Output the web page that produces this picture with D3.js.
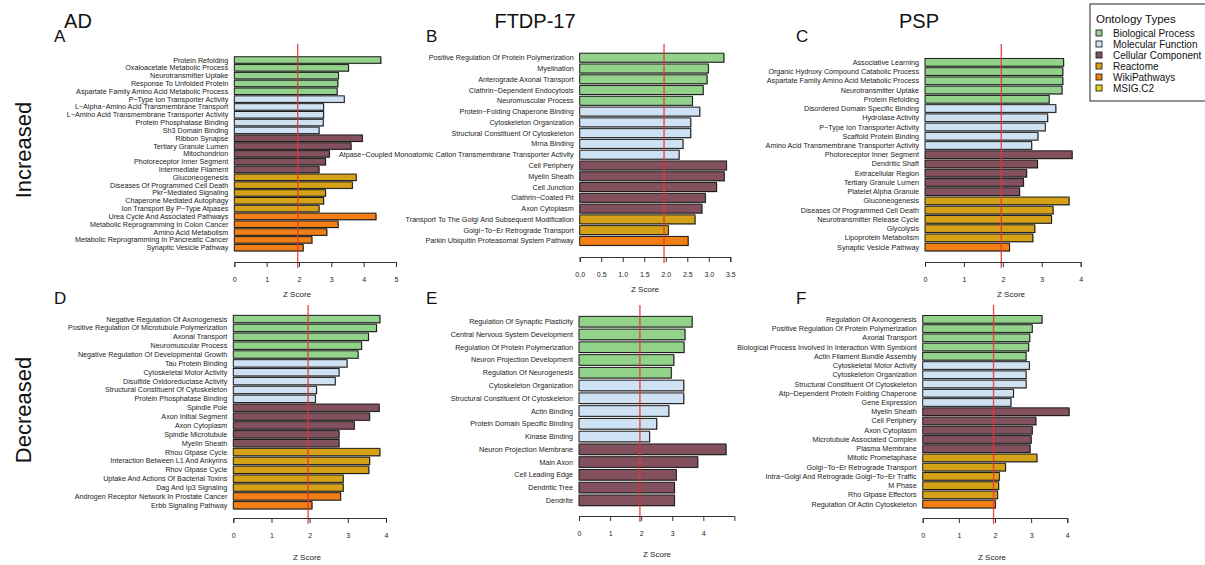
<html>
<head>
<meta charset="utf-8">
<script src="https://d3js.org/d3.v7.min.js"></script>
<style>
body { margin: 0; background: #fff; }
svg { font-family: "Liberation Sans", Arial, Helvetica, sans-serif; }
.lbl { font-size: 7.2px; fill: #222; }
.tick text { font-size: 7px; fill: #222; }
</style>
</head>
<body>
<svg width="1205" height="565"></svg>
<script>
// ---- data ----
const typeNames = ["Biological Process", "Molecular Function", "Cellular Component", "Reactome", "WikiPathways", "MSIG.C2"];
const typeKeys = ["BP", "MF", "CC", "RE", "WP", "MS"];
const typeColors = ["#93d28a", "#cfe2f3", "#83515e", "#d4a117", "#f17f16", "#f3cc12"];

// A: AD increased
const aLabels = ["Protein Refolding", "Oxaloacetate Metabolic Process", "Neurotransmitter Uptake", "Response To Unfolded Protein", "Aspartate Family Amino Acid Metabolic Process",
  "P\u2212Type Ion Transporter Activity", "L\u2212Alpha\u2212Amino Acid Transmembrane Transport", "L\u2212Amino Acid Transmembrane Transporter Activity", "Protein Phosphatase Binding", "Sh3 Domain Binding",
  "Ribbon Synapse", "Tertiary Granule Lumen", "Mitochondrion", "Photoreceptor Inner Segment", "Intermediate Filament",
  "Gluconeogenesis", "Diseases Of Programmed Cell Death", "Pkr\u2212Mediated Signaling", "Chaperone Mediated Autophagy", "Ion Transport By P\u2212Type Atpases",
  "Urea Cycle And Associated Pathways", "Metabolic Reprogramming In Colon Cancer", "Amino Acid Metabolism", "Metabolic Reprogramming In Pancreatic Cancer", "Synaptic Vesicle Pathway"];
const aValues = [4.53, 3.53, 3.22, 3.20, 3.18, 3.40, 2.76, 2.76, 2.75, 2.62, 3.96, 3.61, 2.94, 2.82, 2.62, 3.77, 3.65, 2.82, 2.76, 2.62, 4.38, 3.21, 2.86, 2.40, 2.13];
const aTypes = ["BP","BP","BP","BP","BP","MF","MF","MF","MF","MF","CC","CC","CC","CC","CC","RE","RE","RE","RE","RE","WP","WP","WP","WP","WP"];

// B: FTDP-17 increased
const bLabels = ["Positive Regulation Of Protein Polymerization", "Myelination", "Anterograde Axonal Transport", "Clathrin\u2212Dependent Endocytosis", "Neuromuscular Process",
  "Protein\u2212Folding Chaperone Binding", "Cytoskeleton Organization", "Structural Constituent Of Cytoskeleton", "Mrna Binding", "Atpase\u2212Coupled Monoatomic Cation Transmembrane Transporter Activity",
  "Cell Periphery", "Myelin Sheath", "Cell Junction", "Clathrin\u2212Coated Pit", "Axon Cytoplasm",
  "Transport To The Golgi And Subsequent Modification", "Golgi\u2212To\u2212Er Retrograde Transport", "Parkin Ubiquitin Proteasomal System Pathway"];
const bValues = [3.35, 2.99, 2.96, 2.87, 2.62, 2.79, 2.58, 2.58, 2.40, 2.31, 3.41, 3.36, 3.18, 2.92, 2.84, 2.68, 2.06, 2.52];
const bTypes = ["BP","BP","BP","BP","BP","MF","MF","MF","MF","MF","CC","CC","CC","CC","CC","RE","RE","WP"];

// C: PSP increased
const cLabels = ["Associative Learning", "Organic Hydroxy Compound Catabolic Process", "Aspartate Family Amino Acid Metabolic Process", "Neurotransmitter Uptake", "Protein Refolding",
  "Disordered Domain Specific Binding", "Hydrolase Activity", "P\u2212Type Ion Transporter Activity", "Scaffold Protein Binding", "Amino Acid Transmembrane Transporter Activity",
  "Photoreceptor Inner Segment", "Dendritic Shaft", "Extracellular Region", "Tertiary Granule Lumen", "Platelet Alpha Granule",
  "Gluconeogenesis", "Diseases Of Programmed Cell Death", "Neurotransmitter Release Cycle", "Glycolysis", "Lipoprotein Metabolism",
  "Synaptic Vesicle Pathway"];
const cValues = [3.56, 3.54, 3.54, 3.52, 3.19, 3.36, 3.15, 3.09, 2.90, 2.74, 3.78, 2.89, 2.61, 2.53, 2.43, 3.70, 3.29, 3.25, 2.82, 2.77, 2.17];
const cTypes = ["BP","BP","BP","BP","BP","MF","MF","MF","MF","MF","CC","CC","CC","CC","CC","RE","RE","RE","RE","RE","WP"];

// D: AD decreased
const dLabels = ["Negative Regulation Of Axonogenesis", "Positive Regulation Of Microtubule Polymerization", "Axonal Transport", "Neuromuscular Process", "Negative Regulation Of Developmental Growth",
  "Tau Protein Binding", "Cytoskeletal Motor Activity", "Disulfide Oxidoreductase Activity", "Structural Constituent Of Cytoskeleton", "Protein Phosphatase Binding",
  "Spindle Pole", "Axon Initial Segment", "Axon Cytoplasm", "Spindle Microtubule", "Myelin Sheath",
  "Rhou Gtpase Cycle", "Interaction Between L1 And Ankyrins", "Rhov Gtpase Cycle", "Uptake And Actions Of Bacterial Toxins", "Dag And Ip3 Signaling",
  "Androgen Receptor Network In Prostate Cancer", "Erbb Signaling Pathway"];
const dValues = [3.84, 3.75, 3.54, 3.36, 3.27, 2.98, 2.77, 2.67, 2.18, 2.15, 3.82, 3.57, 3.17, 2.77, 2.77, 3.84, 3.57, 3.55, 2.88, 2.88, 2.81, 2.06];
const dTypes = ["BP","BP","BP","BP","BP","MF","MF","MF","MF","MF","CC","CC","CC","CC","CC","RE","RE","RE","RE","RE","WP","WP"];

// E: FTDP-17 decreased
const eLabels = ["Regulation Of Synaptic Plasticity", "Central Nervous System Development", "Regulation Of Protein Polymerization", "Neuron Projection Development", "Regulation Of Neurogenesis",
  "Cytoskeleton Organization", "Structural Constituent Of Cytoskeleton", "Actin Binding", "Protein Domain Specific Binding", "Kinase Binding",
  "Neuron Projection Membrane", "Main Axon", "Cell Leading Edge", "Dendritic Tree", "Dendrite"];
const eValues = [3.64, 3.41, 3.38, 3.05, 2.97, 3.37, 3.37, 2.89, 2.50, 2.27, 4.73, 3.82, 3.13, 3.07, 3.07];
const eTypes = ["BP","BP","BP","BP","BP","MF","MF","MF","MF","MF","CC","CC","CC","CC","CC"];

// F: PSP decreased
const fLabels = ["Regulation Of Axonogenesis", "Positive Regulation Of Protein Polymerization", "Axonal Transport", "Biological Process Involved In Interaction With Symbiont", "Actin Filament Bundle Assembly",
  "Cytoskeletal Motor Activity", "Cytoskeleton Organization", "Structural Constituent Of Cytoskeleton", "Atp\u2212Dependent Protein Folding Chaperone", "Gene Expression",
  "Myelin Sheath", "Cell Periphery", "Axon Cytoplasm", "Microtubule Associated Complex", "Plasma Membrane",
  "Mitotic Prometaphase", "Golgi\u2212To\u2212Er Retrograde Transport", "Intra\u2212Golgi And Retrograde Golgi\u2212To\u2212Er Traffic", "M Phase", "Rho Gtpase Effectors",
  "Regulation Of Actin Cytoskeleton"];
const fValues = [3.30, 3.03, 2.96, 2.93, 2.86, 2.95, 2.86, 2.86, 2.51, 2.44, 4.05, 3.13, 3.03, 3.00, 2.97, 3.16, 2.29, 2.12, 2.10, 2.07, 2.01];
const fTypes = ["BP","BP","BP","BP","BP","MF","MF","MF","MF","MF","CC","CC","CC","CC","CC","RE","RE","RE","RE","RE","WP"];

const zCut = 1.96;
const columnTitles = ["AD", "FTDP-17", "PSP"];
const rowTitles = ["Increased", "Decreased"];

// ---- drawing ----
const svg = d3.select("svg");
const colorOf = d3.scaleOrdinal().domain(typeKeys).range(typeColors);

function drawPanel(p, labels, values, types) {
  const x = d3.scaleLinear().domain([0, p.xmax]).range([p.x0, p.x1]);
  const y = d3.scaleBand().domain(labels).range([p.y0, p.y1]).paddingInner(1 / 6).paddingOuter(1 / 12);
  const g = svg.append("g");

  // shadow
  g.selectAll("rect.sh").data(labels).enter().append("rect")
    .attr("class", "sh")
    .attr("x", x(0) + 0.8)
    .attr("y", d => y(d) + 0.8)
    .attr("width", (d, i) => x(values[i]) - x(0))
    .attr("height", y.bandwidth())
    .attr("fill", "#9a9a9a");
  g.selectAll("rect.bar").data(labels).enter().append("rect")
    .attr("class", "bar")
    .attr("x", x(0))
    .attr("y", d => y(d))
    .attr("width", (d, i) => x(values[i]) - x(0))
    .attr("height", y.bandwidth())
    .attr("fill", (d, i) => colorOf(types[i]))
    .attr("stroke", "#1b1b1b")
    .attr("stroke-width", 1);

  g.selectAll("text.lbl").data(labels).enter().append("text")
    .attr("class", "lbl")
    .attr("x", x(0) - 6)
    .attr("y", d => y(d) + y.bandwidth() / 2)
    .attr("dy", "0.35em")
    .attr("text-anchor", "end")
    .text(d => d);

  g.append("line")
    .attr("x1", x(zCut)).attr("x2", x(zCut))
    .attr("y1", p.redTop).attr("y2", p.axisY + 6)
    .attr("stroke", "#e8322f").attr("stroke-opacity", 0.85).attr("stroke-width", 1.4);

  const ax = g.append("g")
    .attr("transform", "translate(0," + p.axisY + ")")
    .call(d3.axisBottom(x).tickValues(p.ticks).tickFormat(p.fmt).tickSizeOuter(0).tickSize(5).tickPadding(10));
  ax.select(".domain").attr("stroke", "#333");
  ax.selectAll(".tick line").attr("stroke", "#333");

  g.append("text")
    .attr("x", p.zx).attr("y", p.zy)
    .attr("text-anchor", "middle")
    .style("font-size", "8px").attr("fill", "#222")
    .text("Z Score");

  svg.append("text")
    .attr("x", p.lx).attr("y", p.ly)
    .style("font-size", "17px").attr("fill", "#111")
    .text(p.letter);
}

const fmt0 = d3.format("d");
const fmt1 = d3.format(".1f");

drawPanel({letter: "A", lx: 54, ly: 42, xmax: 5, x0: 234.3, x1: 396, y0: 56.1, y1: 251.6, axisY: 262, redTop: 44,
  ticks: [0, 1, 2, 3, 4, 5], fmt: fmt0, zx: 297, zy: 297}, aLabels, aValues, aTypes);
drawPanel({letter: "B", lx: 426, ly: 42, xmax: 3.5, x0: 579.7, x1: 730.3, y0: 52.3, y1: 246.3, axisY: 257, redTop: 44,
  ticks: [0, 0.5, 1, 1.5, 2, 2.5, 3, 3.5], fmt: fmt1, zx: 645, zy: 292}, bLabels, bValues, bTypes);
drawPanel({letter: "C", lx: 796, ly: 42, xmax: 4, x0: 925, x1: 1080.7, y0: 57.7, y1: 251.7, axisY: 262, redTop: 44,
  ticks: [0, 1, 2, 3, 4], fmt: fmt0, zx: 1011, zy: 297}, cLabels, cValues, cTypes);
drawPanel({letter: "D", lx: 54, ly: 304, xmax: 4, x0: 233.3, x1: 386, y0: 314.6, y1: 509.7, axisY: 518, redTop: 305,
  ticks: [0, 1, 2, 3, 4], fmt: fmt0, zx: 307, zy: 560}, dLabels, dValues, dTypes);
drawPanel({letter: "E", lx: 426, ly: 304, xmax: 5, x0: 579, x1: 734.4, y0: 315.3, y1: 506.7, axisY: 516, redTop: 305,
  ticks: [0, 1, 2, 3, 4], fmt: fmt0, zx: 657, zy: 557}, eLabels, eValues, eTypes);
drawPanel({letter: "F", lx: 796, ly: 304, xmax: 4, x0: 922.7, x1: 1067.3, y0: 314.7, y1: 508.7, axisY: 518, redTop: 305,
  ticks: [0, 1, 2, 3, 4], fmt: fmt0, zx: 992, zy: 560}, fLabels, fValues, fTypes);

// column titles
const colX = [78, 535, 919];
svg.selectAll("text.ct").data(columnTitles).enter().append("text")
  .attr("class", "ct")
  .attr("x", (d, i) => colX[i]).attr("y", 28)
  .attr("text-anchor", "middle")
  .style("font-size", "20px").attr("fill", "#111")
  .text(d => d);

// row titles
const rowY = [150, 410];
svg.selectAll("text.rt").data(rowTitles).enter().append("text")
  .attr("class", "rt")
  .attr("transform", (d, i) => "translate(31," + rowY[i] + ") rotate(-90)")
  .attr("text-anchor", "middle")
  .style("font-size", "22px").attr("fill", "#111")
  .text(d => d);

// legend
const lg = svg.append("g").attr("transform", "translate(1090,4)");
lg.append("rect").attr("x", 0).attr("y", 0).attr("width", 130).attr("height", 97)
  .attr("fill", "#fff").attr("stroke", "#222").attr("stroke-width", 1);
lg.append("text").attr("x", 6).attr("y", 19).style("font-size", "11.5px").attr("fill", "#111").text("Ontology Types");
const ly = d3.scaleBand().domain(typeNames).range([23.5, 89.5]);
lg.selectAll("rect.k").data(typeNames).enter().append("rect")
  .attr("class", "k")
  .attr("x", 6).attr("y", d => ly(d) + ly.bandwidth() / 2 - 3)
  .attr("width", 6).attr("height", 6)
  .attr("fill", (d, i) => typeColors[i]).attr("stroke", "#222").attr("stroke-width", 0.9);
lg.selectAll("text.k").data(typeNames).enter().append("text")
  .attr("class", "k")
  .attr("x", 23).attr("y", d => ly(d) + ly.bandwidth() / 2)
  .attr("dy", "0.35em")
  .style("font-size", "10px").attr("fill", "#111")
  .text(d => d);
</script>
</body>
</html>
